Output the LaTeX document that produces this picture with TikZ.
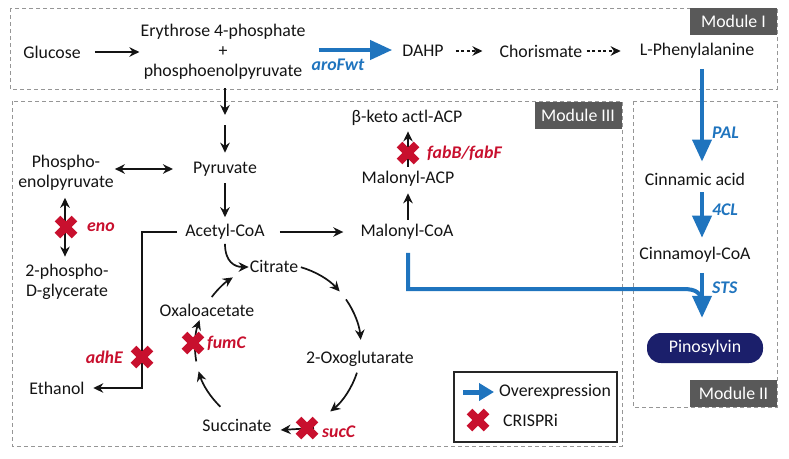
\documentclass[tikz,border=0pt]{standalone}
\usepackage{fontspec}
\setmainfont{Carlito}
\usetikzlibrary{arrows.meta,calc}
\definecolor{oblue}{RGB}{31,116,190}
\definecolor{xred}{RGB}{200,16,46}
\definecolor{navy}{RGB}{27,31,107}
\definecolor{modgrey}{RGB}{89,89,89}
\definecolor{boxgrey}{RGB}{150,150,150}
\newcommand\fs{\fontsize{17.8}{20}\selectfont}
\begin{document}
\begin{tikzpicture}[x=1pt,y=-1pt,
  txt/.style={font=\fs, inner sep=0pt, text=black!92},
  arr/.style={draw=black!92, line width=1.7pt, -{Stealth[length=10pt,width=9.5pt]}},
  darr/.style={draw=black!92, line width=1.7pt, {Stealth[length=10pt,width=9.5pt]}-{Stealth[length=10pt,width=9.5pt]}},
  dsh/.style={arr, dash pattern=on 3pt off 2.5pt},
  barr/.style={draw=oblue, line width=4pt, -{Triangle[length=22pt,width=19pt]}},
  modbox/.style={draw=boxgrey, line width=0.8pt, dash pattern=on 4pt off 3pt},
  modlab/.style={fill=modgrey, text=white, font=\fs, minimum width=87pt, minimum height=27pt, inner sep=0pt},
  redlab/.style={font=\fs\bfseries\itshape, text=xred, inner sep=0pt},
  bluelab/.style={font=\fs\bfseries\itshape, text=oblue, inner sep=0pt},
  xmark/.pic={\draw[xred, line width=8pt] (-8.5,-8.5) -- (8.5,8.5) (-8.5,8.5) -- (8.5,-8.5);}
]
\useasboundingbox (0,0) rectangle (789,458);
% module boxes
\draw[modbox] (10,8) rectangle (777,89);
\draw[modbox] (12,101) rectangle (622,446);
\draw[modbox] (633,101) rectangle (777,407);
\node[modlab] (m1) at (733.5,21.5) {Module I};
\node[modlab] (m3) at (578,115.5) {Module III};
\node[modlab] (m2) at (733.5,393) {Module II};
% nodes
\node[txt] (glu) at (52,52) {Glucose};
\node[txt, align=center] (e4p) at (223,52) {Erythrose 4-phosphate\\+\\phosphoenolpyruvate};
\node[txt] (dahp) at (423,51) {DAHP};
\node[txt] (chor) at (541,51) {Chorismate};
\node[txt] (phe) at (697,51) {L-Phenylalanine};
\node[txt] (pyr) at (225,169) {Pyruvate};
\node[txt, align=center] (pep) at (66,173) {Phospho-\\enolpyruvate};
\node[txt] (acoa) at (225,232) {Acetyl-CoA};
\node[txt, align=center] (pg) at (67,282) {2-phospho-\\D-glycerate};
\node[txt] (mcoa) at (407,232) {Malonyl-CoA};
\node[txt] (macp) at (408,179) {Malonyl-ACP};
\node[txt] (bk) at (407,118) {β-keto actl-ACP};
\node[txt] (cit) at (274,266) {Citrate};
\node[txt] (oxo) at (360,359) {2-Oxoglutarate};
\node[txt] (suc) at (237,425) {Succinate};
\node[txt] (oaa) at (207,310) {Oxaloacetate};
\node[txt] (eth) at (57,388) {Ethanol};
\node[txt] (cin) at (695,179) {Cinnamic acid};
\node[txt] (ccoa) at (695,255) {Cinnamoyl-CoA};
\node[fill=navy, text=white, font=\fs, rounded corners=14pt, minimum width=116pt, minimum height=30pt, inner sep=0pt] (pino) at (705,348) {Pinosylvin};
\coordinate (mid) at (225,120);
\coordinate (tc) at (278,347);
% module I arrows
\draw[arr] ([shift={(14,0)}]glu.east) -- ([shift={(-1,0)}]e4p.west);
\draw[barr] ([shift={(13,-2)}]e4p.east) -- ([shift={(-10,-1)}]dahp.west);
\node[bluelab] (aro) at (338,65) {aroFwt};
\draw[dsh] ([shift={(12,0)}]dahp.east) -- ([shift={(-17,0)}]chor.west);
\draw[dsh] ([shift={(4,0)}]chor.east) -- ([shift={(-19,0)}]phe.west);
% module II arrows
\draw[barr] ([shift={(5,10)}]phe.south) -- ([shift={(7,-11)}]cin.north);
\draw[barr] ([shift={(7,7)}]cin.south) -- ([shift={(7,-9.5)}]ccoa.north);
\draw[draw=oblue, line width=4pt] ([shift={(1,13)}]mcoa.south) |- (683,289) .. controls (697,289) and (702,293) .. (702,306);
\draw[barr] ([shift={(7,10)}]ccoa.south) -- ([shift={(-3,-15)}]pino.north);
\node[bluelab, anchor=west] (pal) at (712,133) {PAL};
\node[bluelab, anchor=west] (fcl) at (712,210) {4CL};
\node[bluelab, anchor=west] (sts) at (712,288) {STS};
% module III arrows
\draw[arr] ([shift={(2,8)}]e4p.south) -- ([shift={(0,-5)}]mid);
\draw[arr] ([shift={(0,5)}]mid) -- ([shift={(0,-9)}]pyr.north);
\draw[darr] ($(pep.east |- pyr.west)+(1,0)$) -- ([shift={(-20,0)}]pyr.west);
\draw[arr] ([shift={(0,7)}]pyr.south) -- ([shift={(0,-7)}]acoa.north);
\draw[arr] ([shift={(15,0)}]acoa.east) -- ([shift={(-17,0)}]mcoa.west);
\draw[darr] ([shift={(-1,7)}]pep.south) -- ([shift={(-2,-7.5)}]pg.north);
\draw[arr] ([shift={(1,-4.5)}]mcoa.north) -- ([shift={(0,6.5)}]macp.south);
\draw[arr] ([shift={(0,-4.5)}]macp.north) -- ([shift={(1,5.5)}]bk.south);
\draw[arr] ([shift={(-8,0)}]acoa.west) -| (142,310) |- ([shift={(8.5,0)}]eth.east);
\draw[arr] ([shift={(0,4)}]acoa.south) .. controls +(0,18) and +(-14,0) .. ([shift={(-1,1)}]cit.west);
% TCA cycle
\draw[arr] ($(tc)+(-74:83)$) arc[start angle=-74, end angle=-42, radius=83];
\draw[arr] ($(tc)+(-35:83)$) arc[start angle=-35, end angle=-5, radius=83];
\draw[arr] ($(tc)+(18:83)$) arc[start angle=18, end angle=51, radius=83];
\draw[arr] (314,428) -- ([shift={(9,5)}]suc.east);
\draw[arr] ($(tc)+(134:83)$) arc[start angle=134, end angle=163, radius=83];
\draw[arr] ($(tc)+(170:83)$) arc[start angle=170, end angle=199, radius=83];
\draw[arr] ($(tc)+(217:83)$) arc[start angle=217, end angle=237, radius=83];
% CRISPRi marks
\pic at (66,227) {xmark};
\pic at (408,153) {xmark};
\pic at (142,357) {xmark};
\pic at (193,343) {xmark};
\pic at (307,428) {xmark};
\node[redlab, anchor=west] (eno) at (87,227) {eno};
\node[redlab, anchor=west] (fab) at (427,153) {fabB/fabF};
\node[redlab, anchor=east] (adh) at (123,357) {adhE};
\node[redlab, anchor=west] (fum) at (207,343) {fumC};
\node[redlab, anchor=west] (succ) at (322,432) {sucC};
% legend
\draw[draw=black!85, line width=1.2pt] (454,372) rectangle (617,442);
\coordinate (la) at (463,392);
\coordinate (lb) at (494,392);
\draw[draw=oblue, line width=5pt, -{Triangle[length=15pt,width=17pt]}] (la) -- (lb);
\node[txt, anchor=west] (ovx) at (499,392) {Overexpression};
\pic at (478,420) {xmark};
\node[txt, anchor=west] (cri) at (503,420) {CRISPRi};
\end{tikzpicture}
\end{document}
